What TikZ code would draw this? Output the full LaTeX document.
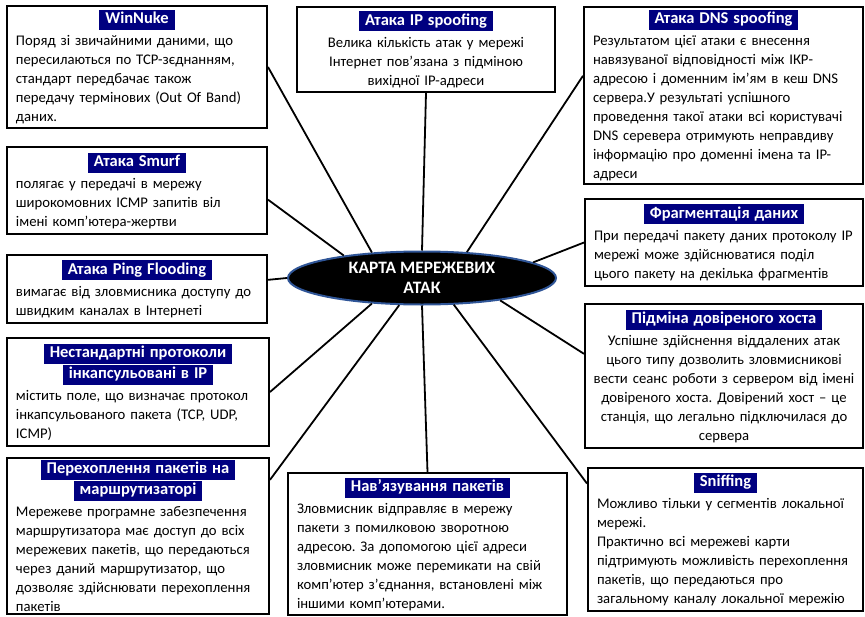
\documentclass[tikz,border=0pt]{standalone}
\usepackage{fontspec}
\setmainfont{Carlito}
\usetikzlibrary{shapes.geometric}

\definecolor{titlenavy}{HTML}{000080}
\definecolor{hubedge}{HTML}{2F5597}

\newcommand\titlebar[1]{{\fontsize{16.5}{18}\selectfont\colorbox{titlenavy}{\strut\hspace{5pt}\textcolor{white}{\bfseries #1}\hspace{5pt}}}}

\tikzset{
  card/.style={draw, line width=2pt, anchor=north west, inner xsep=9pt, inner ysep=2pt,
    align=left, font=\fontsize{14.7}{19}\selectfont},
  hub/.style={ellipse, draw=hubedge, fill=black, line width=2pt, inner sep=0pt,
    minimum width=268pt, minimum height=53pt, text=white, align=center,
    font=\bfseries\fontsize{17.4}{20}\selectfont},
  link/.style={line width=1.8pt}
}
\setlength\fboxsep{1pt}
\frenchspacing

\begin{document}
\begin{tikzpicture}[x=1pt, y=-1pt]
    \useasboundingbox (0,0) rectangle (865,616);

    \node[hub] (hub) at (422,278) {КАРТА МЕРЕЖЕВИХ\\АТАК};

    % left column
    \node[card, text width=242pt, minimum height=122pt] (winnuke) at (6,5)
        {{\centering\titlebar{WinNuke}\par}\vspace{3pt}
         Поряд зі звичайними даними, що\\
         пересилаються по TCP-зєднанням,\\
         стандарт передбачає також\\
         передачу термінових (Out Of Band)\\
         даних.};
    \node[card, text width=242pt, minimum height=87pt] (smurf) at (6,146)
        {{\centering\titlebar{Атака Smurf}\par}\vspace{3pt}
         полягає у передачі в мережу\\
         широкомовних ICMP запитів віл\\
         імені комп’ютера-жертви};
    \node[card, text width=242pt, minimum height=68pt] (ping) at (6,254)
        {{\centering\titlebar{Атака Ping Flooding}\par}\vspace{3pt}
         вимагає від зловмисника доступу до\\
         швидким каналах в Інтернеті};
    \node[card, text width=244pt, minimum height=108pt] (nonstd) at (6,337)
        {{\centering\titlebar{Нестандартні протоколи}\\\titlebar{інкапсульовані в IP}\par}\vspace{3pt}
         містить поле, що визначає протокол\\
         інкапсульованого пакета (TCP, UDP,\\
         ICMP)};
    \node[card, text width=244pt, minimum height=150pt] (intercept) at (6,457)
        {{\centering\titlebar{Перехоплення пакетів на}\\\titlebar{маршрутизаторі}\par}\vspace{3pt}
         Мережеве програмне забезпечення\\
         маршрутизатора має доступ до всіх\\
         мережевих пакетів, що передаються\\
         через даний маршрутизатор, що\\
         дозволяє здійснювати перехоплення\\
         пакетів};

    % middle column
    \node[card, align=center, text width=240pt, minimum height=85pt] (ipspoof) at (296,6)
        {\titlebar{Атака IP spoofing}\\[3pt]
         Велика кількість атак у мережі\\
         Інтернет пов’язана з підміною\\
         вихідної IP-адреси};
    \node[card, text width=261pt, minimum height=142pt] (inject) at (287,472)
        {{\centering\titlebar{Нав’язування пакетів}\par}\vspace{3pt}
         Зловмисник відправляє в мережу\\
         пакети з помилковою зворотною\\
         адресою. За допомогою цієї адреси\\
         зловмисник може перемикати на свій\\
         комп’ютер з’єднання, встановлені між\\
         іншими комп’ютерами.};

    % right column
    \node[card, text width=261pt, minimum height=177pt] (dnsspoof) at (583,6)
        {{\centering\titlebar{Атака DNS spoofing}\par}\vspace{3pt}
         Результатом цієї атаки є внесення\\
         навязуваної відповідності між ІКР-\\
         адресою і доменним ім’ям в кеш DNS\\
         сервера.У результаті успішного\\
         проведення такої атаки всі користувачі\\
         DNS серевера отримують неправдиву\\
         інформацію про доменні імена та IP-\\
         адреси};
    \node[card, text width=260pt, minimum height=87pt] (fragment) at (584,198)
        {{\centering\titlebar{Фрагментація даних}\par}\vspace{3pt}
         При передачі пакету даних протоколу IP\\
         мережі може здійснюватися поділ\\
         цього пакету на декілька фрагментів};
    \node[card, align=center, text width=266pt, inner xsep=6pt, minimum height=144pt] (trusted) at (584,303)
        {\titlebar{Підміна довіреного хоста}\\[3pt]
         Успішне здійснення віддалених атак\\
         цього типу дозволить зловмисникові\\
         вести сеанс роботи з сервером від імені\\
         довіреного хоста. Довірений хост – це\\
         станція, що легально підключилася до\\
         сервера};
    \node[card, text width=257pt, minimum height=143pt] (sniff) at (587,467)
        {{\centering\titlebar{Sniffing}\par}\vspace{3pt}
         Можливо тільки у сегментів локальної\\
         мережі.\\
         Практично всі мережеві карти\\
         підтримують можливість перехоплення\\
         пакетів, що передаються про\\
         загальному каналу локальної мережію};

    % connectors
    \draw[link] (winnuke.east)  -- (hub.153);
    \draw[link] (smurf.-4)      -- (hub.164);
    \draw[link] (ping.4)        -- (hub.west);
    \draw[link] (nonstd.east)   -- (hub.207);
    \draw[link] (intercept.23)  -- (hub.230);
    \draw[link] (ipspoof.south) -- (hub.north);
    \draw[link] (inject.north)  -- (hub.south);
    \draw[link] (dnsspoof.172)  -- (hub.30);
    \draw[link] (fragment.west) -- (hub.8);
    \draw[link] (trusted.171)   -- (hub.344);
    \draw[link] (sniff.158)     -- (hub.320);
\end{tikzpicture}
\end{document}
